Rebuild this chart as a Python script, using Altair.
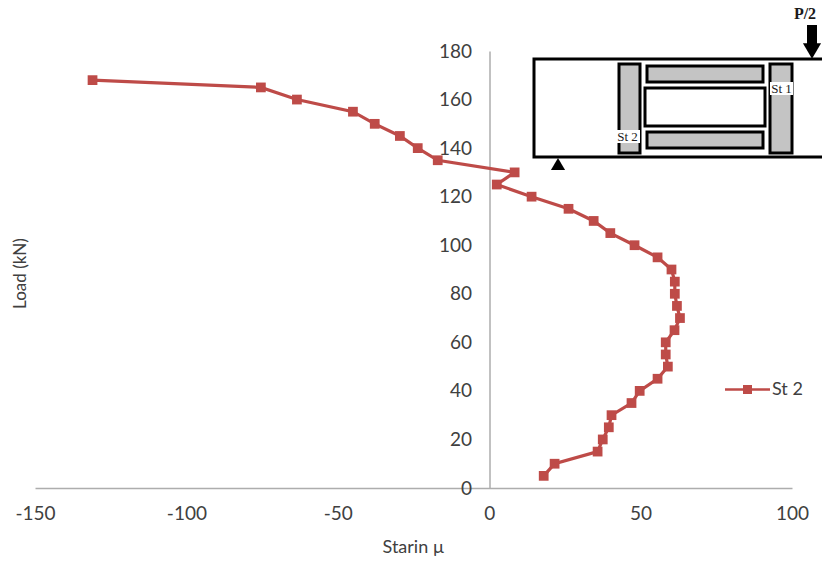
import altair as alt
import pandas as pd

load = [5, 10, 15, 20, 25, 30, 35, 40, 45, 50, 55, 60, 65, 70, 75, 80, 85, 90, 95, 100,
        105, 110, 115, 120, 125, 130, 135, 140, 145, 150, 155, 160, 165, 168]
strain = [18, 21.6, 35.8, 37.5, 39.5, 40.4, 47, 49.7, 55.6, 59, 58.3, 58.3, 61.2, 63, 62, 61.3,
          61.3, 60.2, 55.6, 48, 40, 34.5, 26.2, 14, 2.5, 8.4, -17, -23.6, -29.5, -37.8, -45,
          -63.5, -75.4, -131]
series = ["St 2"] * len(load)
x_ticks = [-150, -100, -50, 0, 50, 100]
y_ticks = list(range(0, 181, 20))

RED = "#BE4B48"
GREY = "#404040"
FONT = "Lato"
OX, OY = 35, 51   # plot origin on the page, for the inset sketch

df = pd.DataFrame({"strain": strain, "load": load, "series": series})

LEGEND_PATH = "M-1,-0.06H-0.2V-0.2H0.2V-0.06H1V0.06H0.2V0.2H-0.2V0.06H-1Z"

main = alt.Chart(df).mark_line(
    color=RED, strokeWidth=3.2,
    point=alt.OverlayMarkDef(shape="square", size=95, filled=True, color=RED, opacity=1),
).encode(
    x=alt.X("strain:Q", scale=alt.Scale(domain=[-150, 100], nice=False, zero=False),
            axis=alt.Axis(values=x_ticks, title="Starin µ", grid=False, ticks=False,
                          domainColor="#ADADAD", domainWidth=1.5, labelColor=GREY,
                          labelFontSize=19, labelFont=FONT, labelPadding=16,
                          labelFlush=False, labelOverlap=False, labelBound=False,
                          labelExpr="replace(datum.label, '\u2212', '-')",
                          titleFont=FONT, titleFontSize=18, titleFontWeight="normal",
                          titleColor=GREY, titleX=413 - OX, titleY=50)),
    y=alt.Y("load:Q", scale=alt.Scale(domain=[0, 180], nice=False),
            axis=alt.Axis(values=y_ticks, title="Load (kN)", grid=False, ticks=False,
                          offset=-454.5, domainColor="#ADADAD", domainWidth=1.5,
                          labelColor=GREY, labelFontSize=19, labelFont=FONT, labelPadding=18,
                          labelFlush=False, labelOverlap=False,
                          titleFont=FONT, titleFontSize=17, titleFontWeight="normal",
                          titleColor=GREY, titleX=29 - 489.5, titleY=273 - OY)),
    order=alt.Order("load:Q"),
    color=alt.Color("series:N", scale=alt.Scale(range=[RED]),
                    legend=alt.Legend(title=None, orient="none", legendX=725 - OX, legendY=367 - OY,
                                      symbolType=LEGEND_PATH, symbolSize=2025, symbolStrokeWidth=0,
                                      symbolFillColor=RED, labelFont=FONT, labelFontSize=18,
                                      labelColor=GREY, labelOffset=2)),
)

# inset beam sketch, page pixel rectangles: left, right, top, bottom, fill
boxes = [
    (619, 640, 64, 153, "#c4c4c4"),
    (770, 792, 64, 153, "#c4c4c4"),
    (647, 763, 66, 82, "#c4c4c4"),
    (647, 763, 132, 148, "#c4c4c4"),
    (645, 765, 88, 126, "#ffffff"),
]
patches = [(770, 793, 82, 95), (615, 640, 130, 143)]
sketch_texts = [("St 1", 781.5, 89, 13, "normal"), ("St 2", 627.5, 137, 13, "normal"),
                ("P/2", 805, 14, 16, "bold")]

base = alt.Chart(pd.DataFrame({"a": [0]}))


def rect(l, r, t, b, fill, stroke="#000000", sw=3):
    return base.mark_rect(fill=fill, stroke=stroke, strokeWidth=sw, clip=False).encode(
        x=alt.value(l - OX), x2=alt.value(r - OX), y=alt.value(t - OY), y2=alt.value(b - OY))


layers = [main]
# outer beam box runs off the right edge of the canvas
layers.append(rect(534, 840, 59, 157, "#ffffff"))
for l, r, t, b, f in boxes:
    layers.append(rect(l, r, t, b, f))
for l, r, t, b in patches:
    layers.append(rect(l, r, t, b, "#ffffff", "#ffffff", 0))
for s, x, y, size, weight in sketch_texts:
    layers.append(base.mark_text(text=s, font="Liberation Serif", fontSize=size, fontWeight=weight,
                                 color="#1a1a1a", align="center", baseline="middle").encode(
        x=alt.value(x - OX), y=alt.value(y - OY)))
# support triangle and load arrow
layers.append(base.mark_point(shape="triangle-up", filled=True, color="#000000", size=200, opacity=1).encode(
    x=alt.value(558 - OX), y=alt.value(164 - OY)))
layers.append(rect(807, 817, 25, 46, "#000000", "#000000", 0))
layers.append(base.mark_point(shape="triangle-down", filled=True, color="#000000", size=330, opacity=1).encode(
    x=alt.value(812 - OX), y=alt.value(51 - OY)))

chart = alt.layer(*layers).properties(
    width=757, height=437,
    padding={"left": 27, "top": 43, "right": 30, "bottom": 68},
    autosize=alt.AutoSizeParams(type="none"),
    background="#ffffff",
).configure_view(stroke=None)

chart.save("out.html", embed_options={"renderer": "svg", "actions": False})
